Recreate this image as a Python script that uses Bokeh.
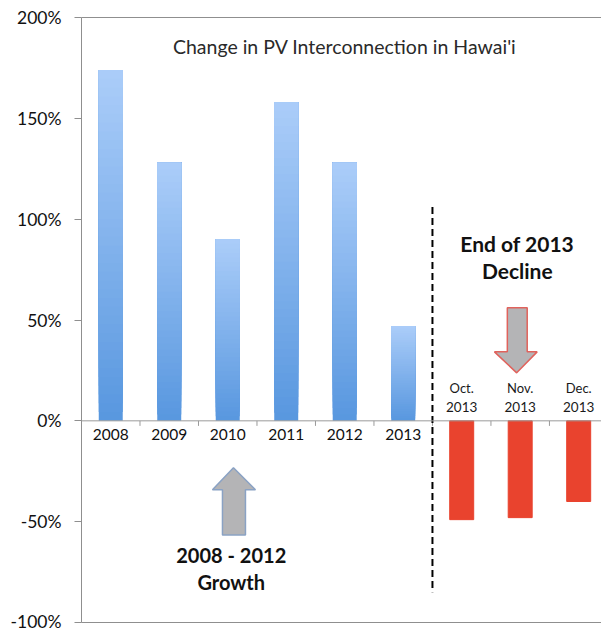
from bokeh.plotting import figure
from bokeh.models import Range1d, FixedTicker, LinearAxis, Span
from bokeh.core.properties import value
from bokeh.embed import file_html
from bokeh.resources import INLINE

# ---- data ----
categories = ["2008", "2009", "2010", "2011", "2012", "2013", "Oct. 2013", "Nov. 2013", "Dec. 2013"]
growth_years = ["2008", "2009", "2010", "2011", "2012", "2013"]
growth_values = [174, 128, 90, 158, 128, 47]
decline_months = ["Oct. 2013", "Nov. 2013", "Dec. 2013"]
decline_values = [-49, -48, -40]
y_ticks = [-100, -50, 0, 50, 100, 150, 200]
y_tick_labels = ["-100%", "-50%", "0%", "50%", "100%", "150%", "200%"]
title_text = "Change in PV Interconnection in Hawai'i"

FONT = "Lato"
BAR_W = 0.41

p = figure(width=601, height=631, output_backend="svg", toolbar_location=None,
           x_range=Range1d(0, 8.89), y_range=Range1d(-100, 200),
           x_axis_location=None, min_border_left=81, min_border_right=0,
           min_border_top=17, min_border_bottom=9)
p.outline_line_color = None
p.grid.visible = False
p.background_fill_color = "white"

ya = p.yaxis[0]
ya.ticker = FixedTicker(ticks=y_ticks)
ya.major_label_overrides = {t: l for t, l in zip(y_ticks, y_tick_labels)}
ya.axis_line_color = "#8f8f8f"
ya.major_tick_line_color = "#8f8f8f"
ya.major_tick_out = 7
ya.major_tick_in = 0
ya.minor_tick_out = 0
ya.minor_tick_in = 0
ya.major_label_text_font = FONT
ya.major_label_text_font_size = "17.5px"
ya.major_label_text_color = "#111111"
ya.major_label_standoff = 13

# frame lines top and bottom
for loc in ("above", "below"):
    ax = LinearAxis(ticker=FixedTicker(ticks=[]), axis_line_color="#8f8f8f",
                    major_tick_out=0, major_tick_in=0, minor_tick_out=0, minor_tick_in=0,
                    major_label_standoff=0, major_label_text_font_size="0px")
    p.add_layout(ax, loc)

# zero line
p.add_layout(Span(location=0, dimension="width", line_color="#9a9a9a", line_width=1))

# category boundary ticks
bx = [i for i in range(1, len(categories) + 1)]
p.segment(x0=bx, y0=[0] * len(bx), x1=bx, y1=[-2.5] * len(bx), line_color="#9a9a9a", line_width=1)

# gradient blue bars (overlapping slices, each from its level up to the bar top)
def lerp(c1, c2, t):
    a = [int(c1[i:i + 2], 16) for i in (1, 3, 5)]
    b = [int(c2[i:i + 2], 16) for i in (1, 3, 5)]
    return "#%02x%02x%02x" % tuple(round(a[k] + (b[k] - a[k]) * t) for k in range(3))

N = 40
bottom_c, top_c = "#5897df", "#abcdf9"
xs, bots, tops, cols = [], [], [], []
for k in range(N):
    for cat, v in zip(growth_years, growth_values):
        xs.append(categories.index(cat) + 0.5)
        bots.append(v * k / N)
        tops.append(v)
        cols.append(lerp(bottom_c, top_c, (k + 0.5) / N))
p.vbar(x=xs, bottom=bots, top=tops, width=BAR_W, fill_color=cols, line_color=None)

# red bars
rx = [categories.index(m) + 0.5 for m in decline_months]
p.vbar(x=rx, bottom=0, top=decline_values, width=BAR_W, fill_color="#e9432e", line_color="#e9432e")

# category labels
gx = [categories.index(c) + 0.5 for c in growth_years]
p.text(x=gx, y=[0] * len(gx), text=growth_years, y_offset=8, text_align="center",
       text_baseline="top", text_font=value(FONT), text_font_size="15.5px", text_color="#111111")
month_part = [m.split(" ")[0] for m in decline_months]
year_part = [m.split(" ")[1] for m in decline_months]
p.text(x=rx, y=[0] * len(rx), text=month_part, y_offset=-33, text_align="center",
       text_baseline="middle", text_font=value(FONT), text_font_size="13px", text_color="#1a1a1a")
p.text(x=rx, y=[0] * len(rx), text=year_part, y_offset=-14, text_align="center",
       text_baseline="middle", text_font=value(FONT), text_font_size="13.5px", text_color="#1a1a1a")

# dashed separator
p.segment(x0=[6.0], y0=[106], x1=[6.0], y1=[-85], line_color="black", line_width=2, line_dash="7 4")

# title
p.text(x=[4.5], y=[185.5], text=[title_text], text_align="center", text_baseline="middle",
       text_font=value(FONT), text_font_size="19.5px", text_color="#2a2a2a")

# annotation texts
p.text(x=[7.45, 7.45], y=[88, 74.5], text=["End of 2013", "Decline"], text_align="center",
       text_baseline="middle", text_font=value(FONT), text_font_size="21px",
       text_font_style="bold", text_color="#111111")
p.text(x=[2.56, 2.56], y=[-66.5, -80], text=["2008 - 2012", "Growth"], text_align="center",
       text_baseline="middle", text_font=value(FONT), text_font_size="20px",
       text_font_style="bold", text_color="#111111")

# arrows
up_x = [2.598, 2.974, 2.803, 2.803, 2.410, 2.410, 2.239]
up_y = [-23.3, -34.2, -34.2, -56.6, -56.6, -34.2, -34.2]
p.patch(up_x, up_y, fill_color="#b4b4b6", line_color="#8aa2c4", line_width=1.5)
dn_x = [7.28, 7.62, 7.62, 7.79, 7.44, 7.06, 7.28]
dn_y = [56.1, 56.1, 34.2, 34.2, 23.8, 34.2, 34.2]
p.patch(dn_x, dn_y, fill_color="#b4b4b6", line_color="#e0625c", line_width=1.5)

open("out.html", "w").write(file_html(p, INLINE))
